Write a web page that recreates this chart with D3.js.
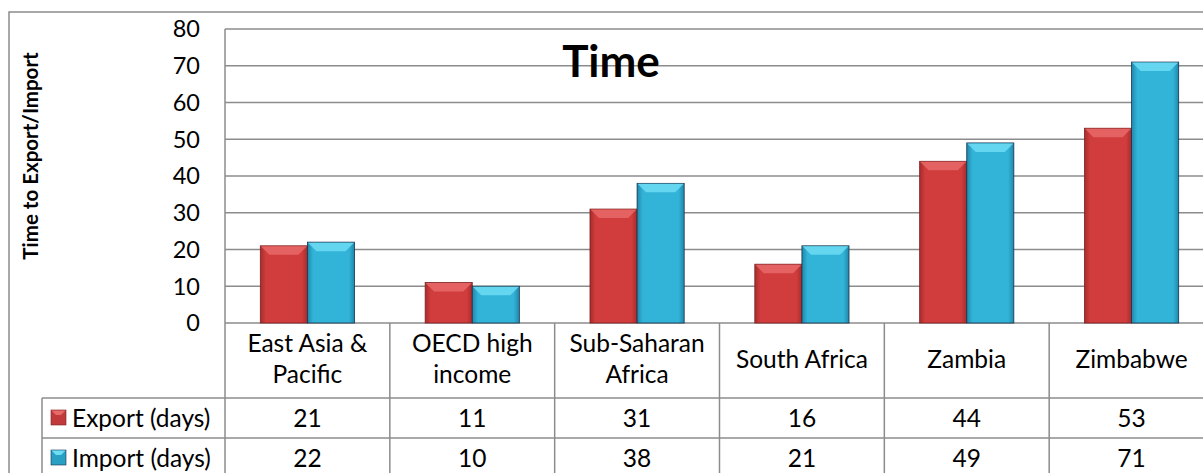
<!DOCTYPE html>
<html>
<head>
<meta charset="utf-8">
<script src="https://cdn.jsdelivr.net/npm/d3@7"></script>
<style>
  body { margin: 0; background: #fff; overflow: hidden; }
  text { font-family: Lato, "Open Sans", sans-serif; fill: #000; }
</style>
</head>
<body>
<div id="chart"></div>
<script>
// chart data
var categories = [["East Asia &", "Pacific"], ["OECD high", "income"], ["Sub-Saharan", "Africa"], ["South Africa"], ["Zambia"], ["Zimbabwe"]];
var seriesNames = ["Export (days)", "Import (days)"];
var exportDays = [21, 11, 31, 16, 44, 53];
var importDays = [22, 10, 38, 21, 49, 71];
var yTicks = [0, 10, 20, 30, 40, 50, 60, 70, 80];

var W = 1203, H = 473;
var plot = { left: 225, right: 1214, top: 29, bottom: 323 };
var rowTop = [323, 398, 438, 478];
var grey = "#8c8c8c";
var fs = "24.5px";

var svg = d3.select("#chart").append("svg")
  .attr("width", W)
  .attr("height", H);

var defs = svg.append("defs");
// gradients for bevelled bars
function barGradient(id, edge, body) {
  var g = defs.append("linearGradient").attr("id", id)
    .attr("x1", "0").attr("x2", "1").attr("y1", "0").attr("y2", "0");
  g.append("stop").attr("offset", "0").attr("stop-color", edge);
  g.append("stop").attr("offset", "0.12").attr("stop-color", body);
  g.append("stop").attr("offset", "0.88").attr("stop-color", body);
  g.append("stop").attr("offset", "1").attr("stop-color", edge);
}
barGradient("gExport", "#a82c2c", "#d13d3d");
barGradient("gImport", "#1f88aa", "#32b3d8");

var colors = {
  "Export (days)": { fill: "url(#gExport)", top: "#e86a68", stroke: "#7a1e1e" },
  "Import (days)": { fill: "url(#gImport)", top: "#6edcf3", stroke: "#17334f" }
};

var names = categories.map(function (d) { return d.join(" "); });

var x = d3.scaleBand().domain(names).range([plot.left, plot.right]);
var xInner = d3.scaleBand().domain(seriesNames).range([0, x.bandwidth()])
  .paddingInner(0).paddingOuter(0.75);
var y = d3.scaleLinear().domain([0, 80]).range([plot.bottom, plot.top]);

// outer chart border
svg.append("rect")
  .attr("x", 9).attr("y", 12)
  .attr("width", 1240).attr("height", 520)
  .attr("fill", "none")
  .attr("stroke", grey)
  .attr("stroke-width", 1.5);

// gridlines
svg.append("g")
  .selectAll("line")
  .data(yTicks)
  .enter()
  .append("line")
  .attr("x1", plot.left).attr("x2", plot.right)
  .attr("y1", function (d) { return y(d); })
  .attr("y2", function (d) { return y(d); })
  .attr("stroke", grey)
  .attr("stroke-width", 1.5);

// y tick labels
svg.append("g")
  .selectAll("text")
  .data(yTicks)
  .enter()
  .append("text")
  .attr("x", 200)
  .attr("y", function (d) { return y(d); })
  .attr("dy", "0.36em")
  .attr("text-anchor", "end")
  .style("font-size", "23.5px")
  .text(function (d) { return d; });

// y axis title
svg.append("text")
  .attr("transform", "translate(38,156) rotate(-90)")
  .attr("text-anchor", "middle")
  .style("font-size", "20.5px")
  .style("font-weight", "bold")
  .text("Time to Export/Import");

// chart title
svg.append("text")
  .attr("x", 611)
  .attr("y", 77)
  .attr("text-anchor", "middle")
  .style("font-size", "44px")
  .style("font-weight", "bold")
  .text("Time");

// bars
var data = [];
names.forEach(function (c, i) {
  data.push({ cat: c, s: seriesNames[0], v: exportDays[i] });
  data.push({ cat: c, s: seriesNames[1], v: importDays[i] });
});

var bev = 9;
var bars = svg.append("g")
  .selectAll("g")
  .data(data)
  .enter()
  .append("g")
  .attr("transform", function (d) {
    return "translate(" + (x(d.cat) + xInner(d.s)) + ",0)";
  });

bars.append("rect")
  .attr("x", 0)
  .attr("y", function (d) { return y(d.v); })
  .attr("width", xInner.bandwidth())
  .attr("height", function (d) { return y(0) - y(d.v); })
  .attr("fill", function (d) { return colors[d.s].fill; })
  .attr("stroke", function (d) { return colors[d.s].stroke; })
  .attr("stroke-width", 0.8);

bars.append("polygon")
  .attr("points", function (d) {
    var w = xInner.bandwidth(), t = y(d.v);
    return [[0.5, t + 0.5], [w - 0.5, t + 0.5], [w - bev, t + bev], [bev, t + bev]].join(" ");
  })
  .attr("fill", function (d) { return colors[d.s].top; })
  .attr("opacity", 0.85);

// table lines
var table = svg.append("g")
  .attr("stroke", grey)
  .attr("stroke-width", 1.5);

table.append("line")
  .attr("x1", plot.left).attr("x2", plot.left)
  .attr("y1", plot.top).attr("y2", H + 10);

table.selectAll(".vline")
  .data(names)
  .enter()
  .append("line")
  .attr("class", "vline")
  .attr("x1", function (d) { return x(d) + x.bandwidth(); })
  .attr("x2", function (d) { return x(d) + x.bandwidth(); })
  .attr("y1", plot.bottom).attr("y2", H + 10);

table.append("line")
  .attr("x1", 42).attr("x2", 42)
  .attr("y1", rowTop[1]).attr("y2", H + 10);

table.selectAll(".hline")
  .data(rowTop.slice(1))
  .enter()
  .append("line")
  .attr("class", "hline")
  .attr("x1", 42).attr("x2", plot.right)
  .attr("y1", function (d) { return d; })
  .attr("y2", function (d) { return d; });

// category labels in the table header
var header = svg.append("g")
  .selectAll("text")
  .data(categories)
  .enter()
  .append("text")
  .attr("text-anchor", "middle")
  .style("font-size", fs)
  .attr("x", function (d, i) { return x(names[i]) + x.bandwidth() / 2; })
  .attr("y", function (d) { return d.length > 1 ? 352 : 368; });

header.selectAll("tspan")
  .data(function (d) { return d; })
  .enter()
  .append("tspan")
  .attr("x", function () { return d3.select(this.parentNode).attr("x"); })
  .attr("dy", function (d, i) { return i === 0 ? 0 : 31; })
  .text(function (d) { return d; });

// series rows
var rows = [exportDays, importDays];
var legendFill = ["#c0393b", "#2a9fc4"];
var legendTop = ["#e86a68", "#6edcf3"];

rows.forEach(function (vals, r) {
  var cy = (rowTop[r + 1] + rowTop[r + 2]) / 2;
  var row = svg.append("g");
  row.append("rect")
    .attr("x", 51).attr("y", cy - 8)
    .attr("width", 15).attr("height", 15)
    .attr("fill", legendFill[r])
    .attr("stroke", colors[seriesNames[r]].stroke)
    .attr("stroke-width", 0.6);
  row.append("polygon")
    .attr("points", [[51.5, cy - 7.5], [65.5, cy - 7.5], [61, cy - 3], [56, cy - 3]].join(" "))
    .attr("fill", legendTop[r]);
  row.append("text")
    .attr("x", 72).attr("y", cy)
    .attr("dy", "0.36em")
    .style("font-size", fs)
    .text(seriesNames[r]);
  row.selectAll(".val")
    .data(vals)
    .enter()
    .append("text")
    .attr("class", "val")
    .attr("x", function (d, i) { return x(names[i]) + x.bandwidth() / 2; })
    .attr("y", cy)
    .attr("dy", "0.36em")
    .attr("text-anchor", "middle")
    .style("font-size", fs)
    .text(function (d) { return d; });
});
</script>
</body>
</html>
